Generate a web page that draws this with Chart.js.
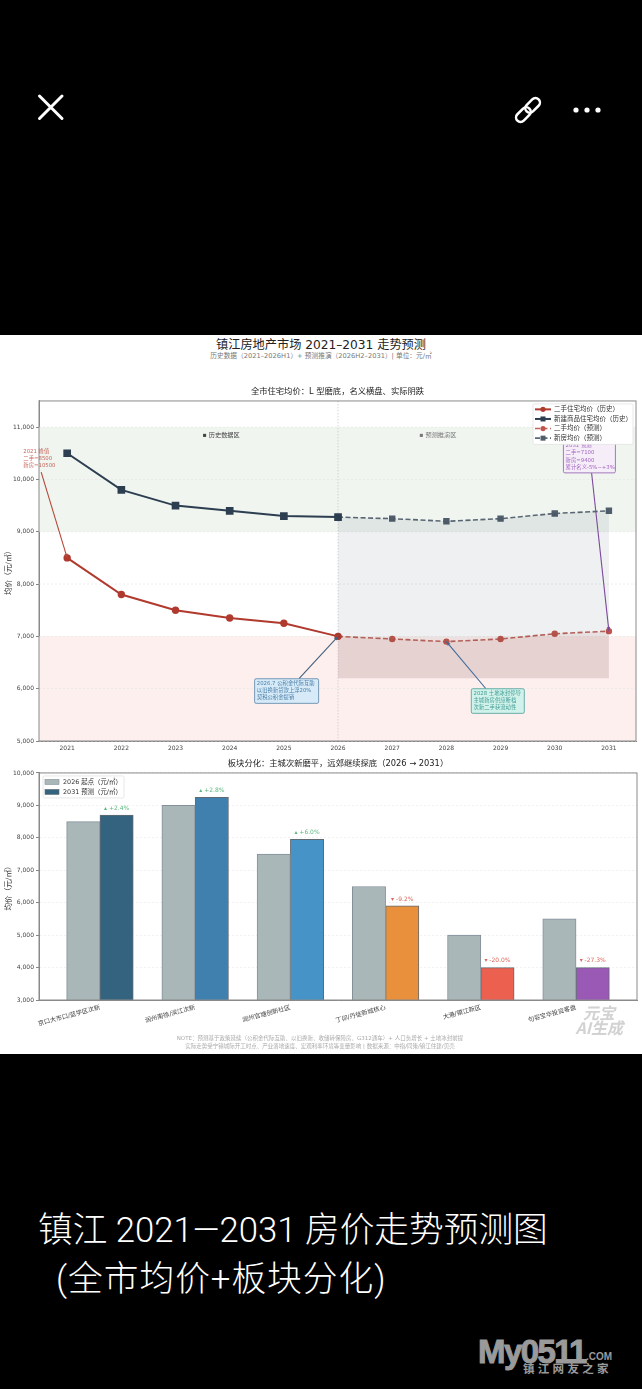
<!DOCTYPE html>
<html>
<head>
<meta charset="utf-8">
<script src="https://cdn.jsdelivr.net/npm/chart.js@4/dist/chart.umd.min.js"></script>
<style>
  html, body { margin: 0; padding: 0; background: #000; }
  body { position: relative; width: 642px; height: 1389px; overflow: hidden; font-family: "DejaVu Sans", "Noto Sans CJK SC", sans-serif; }
  .abs { position: absolute; white-space: nowrap; }
  #sheet { position: absolute; left: 0; top: 335px; width: 642px; height: 719px; background: #fff; }
  canvas { position: absolute; left: 0; }
  #mainTitle { left: 0; width: 642px; top: 336px; text-align: center; font-size: 12.2px; line-height: 18px; color: #222; }
  #subTitle { left: 0; width: 642px; top: 351px; text-align: center; font-size: 6.7px; line-height: 10px; color: #777; }
  #note { left: 0; width: 640px; top: 1035px; text-align: center; font-size: 5.5px; line-height: 7.5px; color: #aaa; }
  #mark { left: 563px; width: 60px; top: 1005px; text-align: right; font-family: "Noto Sans CJK SC"; font-size: 16px; line-height: 14.500px; font-weight: 700; font-style: italic; color: #d2d2d2; }
  #caption { left: 38px; top: 1206px; font-family: Roboto, "Noto Sans CJK SC"; font-size: 34.7px; line-height: 49px; color: #fff; font-weight: 300; }
  #caption span { margin-left: 18px; letter-spacing: 1px; }
  #logo { left: 477px; top: 1330px; width: 140px; height: 50px; color: #9a9a9a; }
</style>
</head>
<body>
<svg class="abs" style="left:0;top:0" width="642" height="160">
  <path d="M39.500 96 L62 118.500 M62 96 L39.500 118.500" stroke="#fff" stroke-width="3" stroke-linecap="round"/>
  <g fill="none" stroke="#fff" stroke-width="2.500" transform="rotate(-45 528 110)">
    <rect x="513" y="105.500" width="17" height="9" rx="4.500"/>
    <rect x="526" y="105.500" width="17" height="9" rx="4.500"/>
  </g>
  <circle cx="576" cy="110" r="2.600" fill="#fff"/><circle cx="587" cy="110" r="2.600" fill="#fff"/><circle cx="598" cy="110" r="2.600" fill="#fff"/>
</svg>
<div id="sheet"></div>
<div class="abs" id="mainTitle">镇江房地产市场 2021–2031 走势预测</div>
<div class="abs" id="subTitle">历史数据（2021–2026H1）+ 预测推演（2026H2–2031）| 单位：元/㎡</div>
<canvas id="trendChart" width="642" height="380" style="top:380px;width:642px;height:380px"></canvas>
<canvas id="areaChart" width="642" height="285" style="top:755px;width:642px;height:285px"></canvas>
<div class="abs" id="note">NOTE：预测基于政策延续（公积金代际互助、以旧换新、收储转保障房、G312通车）+ 人口负增长 + 土地冰封前提<br>实际走势受宁镇城际开工时点、产业落地速度、宏观利率环境等变量影响 | 数据来源：中指/同策/镇江住建/贝壳</div>
<div class="abs" id="mark"><span style="margin-right:8px">元宝</span><br>AI生成</div>
<div class="abs" id="caption">镇江 2021—2031 房价走势预测图<br><span>(全市均价+板块分化)</span></div>
<div class="abs" id="logo">
  <span class="abs" style="left:1px;top:2px;font:900 33px/40px 'Liberation Sans';letter-spacing:-1.600px;-webkit-text-stroke:1px #9a9a9a">My0511</span>
  <span class="abs" style="left:109px;top:20px;font:700 10px/14px 'Liberation Sans'">.COM</span>
  <span class="abs" style="left:46px;top:31px;font:700 11.500px/14px 'Noto Sans CJK SC';letter-spacing:3.300px">镇江网友之家</span>
</div>

<script>
const FONT = '"DejaVu Sans", "Noto Sans CJK SC", sans-serif';

// --- line chart data ---
const histYears = [2021, 2022, 2023, 2024, 2025, 2026];
const foreYears = [2026, 2027, 2028, 2029, 2030, 2031];
const histResale = [8500, 7800, 7500, 7350, 7250, 7000];
const histNew = [10500, 9800, 9500, 9400, 9300, 9280];
const foreResale = [7000, 6950, 6900, 6950, 7050, 7100];
const foreNew = [9280, 9250, 9200, 9250, 9350, 9400];
const fillFloor = 6200;
const greenBand = [9000, 11000];
const redBand = [5000, 7000];
const trendTicks = [5000, 6000, 7000, 8000, 9000, 10000, 11000];

// --- bar chart data ---
const areas = ["京口大市口/蓝学区次新", "润州南徐/滨江次新", "润州官塘创新社区", "丁卯/丹徒新城核心", "大港/镇江新区", "句容宝华投资客盘"];
const price2026 = [8500, 9000, 7500, 6500, 5000, 5500];
const price2031 = [8700, 9250, 7950, 5900, 4000, 4000];
const changeLabels = ["▴ +2.4%", "▴ +2.8%", "▴ +6.0%", "▾ -9.2%", "▾ -20.0%", "▾ -27.3%"];
const barColors = ["#34637f", "#4080ae", "#4693c7", "#e8903c", "#ec6050", "#9b59b6"];
const areaTicks = [3000, 4000, 5000, 6000, 7000, 8000, 9000, 10000];

const toPoints = (xs, ys) => xs.map((x, i) => ({ x: x, y: ys[i] }));
const fmt = (v) => Number(v).toLocaleString("en-US");

function textLines(ctx, lines, x, y, lh) {
  lines.forEach((l, i) => ctx.fillText(l, x, y + i * lh));
}

function drawBox(chart) {
  const { ctx, chartArea: a } = chart;
  ctx.save();
  ctx.strokeStyle = "#8a8a8a";
  ctx.lineWidth = 1;
  ctx.strokeRect(a.left, a.top, a.right - a.left, a.bottom - a.top);
  ctx.restore();
}

function arrow(ctx, x0, y0, x1, y1, color) {
  const ang = Math.atan2(y1 - y0, x1 - x0);
  ctx.strokeStyle = color;
  ctx.fillStyle = color;
  ctx.lineWidth = 1.1;
  ctx.beginPath();
  ctx.moveTo(x0, y0);
  ctx.lineTo(x1, y1);
  ctx.stroke();
  ctx.beginPath();
  ctx.moveTo(x1, y1);
  ctx.lineTo(x1 - 4.5 * Math.cos(ang - 0.4), y1 - 4.5 * Math.sin(ang - 0.4));
  ctx.lineTo(x1 - 4.5 * Math.cos(ang + 0.4), y1 - 4.5 * Math.sin(ang + 0.4));
  ctx.closePath();
  ctx.fill();
}

// callouts are placed in data coordinates, same way as the line points
const callouts = [
  { lines: ["2021 峰值", "二手=8500", "新房=10500"], text: "#c9655a", line: "#b5493c", at: [2021, 8500], box: [2020.15, 10626], from: [2020.52, 10140], w: 31 },
  { lines: ["2031 预测", "二手=7100", "新房=9400", "累计名义-5%~+3%"], text: "#a365c2", line: "#7d4a9c", fill: "#f5edf8", edge: "#9b6cb5", at: [2031, 7100], box: [2030.16, 10733], from: [2030.68, 10127], w: 52 },
  { lines: ["2026.7 公积金代际互助", "以旧换新贷款上浮20%", "契税公积金提销"], text: "#4a7fa8", line: "#45617f", fill: "#d6eaf8", edge: "#6a8eb0", at: [2026, 7000], box: [2024.46, 6190], from: [2025.28, 6190], w: 64 },
  { lines: ["2028 土地冰封停导", "主城新房供应断档", "次新二手获流动性"], text: "#3b9a90", line: "#3f6b9a", fill: "#d1f2eb", edge: "#5aa6a0", at: [2028, 6900], box: [2028.46, 5999], from: [2028.73, 5999], w: 53 }
];

const trendPlugin = {
  id: "trendDecor",
  beforeDatasetsDraw(chart) {
    const { ctx, chartArea: a, scales: { x, y } } = chart;
    ctx.save();
    ctx.fillStyle = "#f0f5f0";
    ctx.fillRect(a.left, y.getPixelForValue(greenBand[1]), a.right - a.left, y.getPixelForValue(greenBand[0]) - y.getPixelForValue(greenBand[1]));
    ctx.fillStyle = "#fdefed";
    ctx.fillRect(a.left, y.getPixelForValue(redBand[1]), a.right - a.left, y.getPixelForValue(redBand[0]) - y.getPixelForValue(redBand[1]));
    // grid lines sit on top of the bands
    ctx.strokeStyle = "#e6e9e6";
    ctx.lineWidth = 0.8;
    ctx.setLineDash([2, 2]);
    y.ticks.forEach((t) => {
      const py = y.getPixelForValue(t.value);
      ctx.beginPath(); ctx.moveTo(a.left, py); ctx.lineTo(a.right, py); ctx.stroke();
    });
    ctx.strokeStyle = "#cccccc";
    ctx.setLineDash([1.5, 1.5]);
    const px = x.getPixelForValue(2026);
    ctx.beginPath(); ctx.moveTo(px, a.top); ctx.lineTo(px, a.bottom); ctx.stroke();
    ctx.restore();
  },
  afterDraw(chart) {
    const { ctx, chartArea: a, scales: { x, y } } = chart;
    ctx.save();
    drawBox(chart);
    ctx.textBaseline = "middle";
    ctx.font = "6.2px " + FONT;
    ctx.fillStyle = "#444";
    ctx.fillText("▪ 历史数据区", x.getPixelForValue(2023.5), y.getPixelForValue(10840));
    ctx.fillStyle = "#777";
    ctx.fillText("▪ 预测推演区", x.getPixelForValue(2027.5), y.getPixelForValue(10840));

    callouts.forEach((c) => {
      const bx = x.getPixelForValue(c.box[0]);
      const by = y.getPixelForValue(c.box[1]);
      const lh = 7.2;
      const h = c.lines.length * lh + 3;
      arrow(ctx, x.getPixelForValue(c.from[0]), y.getPixelForValue(c.from[1]), x.getPixelForValue(c.at[0]), y.getPixelForValue(c.at[1]), c.line);
      if (c.fill) {
        ctx.fillStyle = c.fill;
        ctx.strokeStyle = c.edge;
        ctx.lineWidth = 0.9;
        ctx.beginPath();
        ctx.roundRect(bx, by, c.w, h, 1.5);
        ctx.fill();
        ctx.stroke();
      }
      ctx.fillStyle = c.text;
      ctx.font = "5.35px " + FONT;
      ctx.textAlign = "left";
      textLines(ctx, c.lines, bx + 2.2, by + 4.8, lh);
    });

    // legend goes last so it covers the top of the 2031 callout
    const names = chart.data.datasets.filter((d) => d.label);
    const w = 100, rowH = 9.6;
    const left = a.right - 3 - w, top = a.top + 3;
    ctx.fillStyle = "rgba(255,255,255,0.96)";
    ctx.strokeStyle = "#e2e2e2";
    ctx.lineWidth = 0.8;
    ctx.beginPath();
    ctx.roundRect(left, top, w, names.length * rowH + 2, 1.5);
    ctx.fill();
    ctx.stroke();
    names.forEach((d, i) => {
      const ry = top + 5.4 + i * rowH;
      ctx.strokeStyle = d.borderColor;
      ctx.fillStyle = d.pointBackgroundColor;
      ctx.lineWidth = d.borderWidth;
      ctx.setLineDash(d.borderDash || []);
      ctx.beginPath(); ctx.moveTo(left + 2, ry); ctx.lineTo(left + 18, ry); ctx.stroke();
      ctx.setLineDash([]);
      if (d.pointStyle === "rect") ctx.fillRect(left + 7.5, ry - 2.5, 5, 5);
      else { ctx.beginPath(); ctx.arc(left + 10, ry, 2.6, 0, Math.PI * 2); ctx.fill(); }
      ctx.fillStyle = "#333";
      ctx.font = "6.5px " + FONT;
      ctx.fillText(d.label, left + 21, ry);
    });
    ctx.restore();
  }
};

const areaPlugin = {
  id: "areaDecor",
  afterDraw(chart) {
    const { ctx, chartArea: a } = chart;
    ctx.save();
    drawBox(chart);
    const meta = chart.getDatasetMeta(1);
    ctx.font = "6px " + FONT;
    ctx.textAlign = "center";
    ctx.textBaseline = "middle";
    changeLabels.forEach((t, i) => {
      const bar = meta.data[i];
      ctx.fillStyle = t.charAt(0) === "▴" ? "#5cb87f" : "#d9685c";
      ctx.fillText(t, bar.x, bar.y - 7);
    });
    const left = a.left + 4, top = a.top + 3;
    ctx.textAlign = "left";
    ctx.fillStyle = "#fff";
    ctx.strokeStyle = "#e2e2e2";
    ctx.lineWidth = 0.8;
    ctx.beginPath();
    ctx.roundRect(left, top, 81, 22, 1.5);
    ctx.fill();
    ctx.stroke();
    chart.data.datasets.forEach((d, i) => {
      const ry = top + 6 + i * 10;
      ctx.fillStyle = i === 0 ? d.backgroundColor : d.backgroundColor[0];
      ctx.strokeStyle = d.borderColor;
      ctx.lineWidth = 0.6;
      ctx.fillRect(left + 2, ry - 2.5, 14, 5);
      ctx.strokeRect(left + 2, ry - 2.5, 14, 5);
      ctx.fillStyle = "#333";
      ctx.font = "6.4px " + FONT;
      ctx.fillText(d.label, left + 20, ry);
    });
    ctx.restore();
  }
};

Chart.defaults.font.family = FONT;
Chart.defaults.animation = false;
Chart.defaults.responsive = false;

function yAxis(tickValues) {
  return {
    grid: { color: "#efefef", lineWidth: 0.8, tickColor: "#666", tickLength: 3 },
    border: { color: "#8a8a8a", dash: [2, 2] },
    ticks: { color: "#444", font: { size: 6 }, callback: fmt, padding: 2 },
    title: { display: true, text: "均价（元/㎡）", color: "#333", font: { size: 7.6 }, padding: { top: 4, bottom: 0 } },
    afterBuildTicks: (s) => { s.ticks = tickValues.map((v) => ({ value: v })); },
    afterFit: (s) => { s.width = 39; }
  };
}

const trendY = yAxis(trendTicks);
trendY.min = 5000;
trendY.max = 11500;
trendY.grid.drawOnChartArea = false;

new Chart(document.getElementById("trendChart"), {
  type: "line",
  data: {
    datasets: [
      // area fills first, no label so the legend skips them
      { data: toPoints(foreYears, foreResale), fill: { value: fillFloor }, backgroundColor: "rgba(106,47,60,0.15)", borderWidth: 0, pointRadius: 0 },
      { data: toPoints(foreYears, foreNew), fill: 0, backgroundColor: "rgba(44,62,80,0.08)", borderWidth: 0, pointRadius: 0 },
      { label: "二手住宅均价（历史）", data: toPoints(histYears, histResale), borderColor: "#b03a2e", pointBackgroundColor: "#b03a2e", pointBorderColor: "#b03a2e", borderWidth: 2, pointRadius: 2.7, pointStyle: "circle" },
      { label: "新建商品住宅均价（历史）", data: toPoints(histYears, histNew), borderColor: "#2c3e50", pointBackgroundColor: "#2c3e50", pointBorderColor: "#2c3e50", borderWidth: 2, pointRadius: 4, pointStyle: "rect" },
      { label: "二手均价（预测）", data: toPoints(foreYears, foreResale), borderColor: "#c0665c", pointBackgroundColor: "#c0564b", pointBorderColor: "#c0564b", borderWidth: 1.6, borderDash: [5, 2.500], pointRadius: 2.4, pointStyle: "circle" },
      { label: "新房均价（预测）", data: toPoints(foreYears, foreNew), borderColor: "#5b6875", pointBackgroundColor: "#505d6b", pointBorderColor: "#505d6b", borderWidth: 1.6, borderDash: [5, 2.500], pointRadius: 3.4, pointStyle: "rect" }
    ]
  },
  options: {
    parsing: false,
    layout: { padding: { right: 5, left: 0, top: 0, bottom: 0 } },
    plugins: {
      legend: { display: false },
      tooltip: { enabled: false },
      title: { display: true, fullSize: false, text: "全市住宅均价：L 型磨底，名义横盘、实际阴跌", color: "#222", font: { size: 8.3, weight: "normal" }, padding: { top: 7, bottom: 4 } }
    },
    scales: {
      x: {
        type: "linear", min: 2020.48, max: 2031.5,
        grid: { display: false, drawTicks: true, tickColor: "#666", tickLength: 3 },
        border: { color: "#8a8a8a" },
        ticks: { stepSize: 1, includeBounds: false, autoSkip: false, maxRotation: 0, color: "#444", font: { size: 6 }, padding: 1, callback: (v) => String(v) },
        afterFit: (s) => { s.height = 19; }
      },
      y: trendY
    }
  },
  plugins: [trendPlugin]
});

const areaY = yAxis(areaTicks);
areaY.min = 3000;
areaY.max = 10000;

new Chart(document.getElementById("areaChart"), {
  type: "bar",
  data: {
    datasets: [
      { label: "2026 起点（元/㎡）", data: toPoints(areas.map((a, i) => i), price2026), backgroundColor: "#aab7b8", borderColor: "#84909a", borderWidth: 1, barThickness: 33.3 },
      { label: "2031 预测（元/㎡）", data: toPoints(areas.map((a, i) => i), price2031), backgroundColor: barColors, borderColor: "#5f6a73", borderWidth: 1, barThickness: 33.3 }
    ]
  },
  options: {
    parsing: false,
    layout: { padding: { right: 5 } },
    plugins: {
      legend: { display: false },
      tooltip: { enabled: false },
      title: { display: true, fullSize: false, text: "板块分化：主城次新磨平，远郊继续探底（2026 → 2031）", color: "#222", font: { size: 8.3, weight: "normal" }, padding: { top: 4, bottom: 4 } }
    },
    scales: {
      x: {
        type: "linear", min: -0.64, max: 5.64, offset: false,
        grid: { display: false, tickColor: "#666", tickLength: 3 },
        border: { color: "#8a8a8a" },
        ticks: { stepSize: 1, includeBounds: false, autoSkip: false, minRotation: 15, maxRotation: 15, color: "#444", font: { size: 6.2 }, padding: 1, callback: (v) => areas[v] },
        afterFit: (s) => { s.height = 40; }
      },
      y: areaY
    }
  },
  plugins: [areaPlugin]
});
</script>
</body>
</html>
